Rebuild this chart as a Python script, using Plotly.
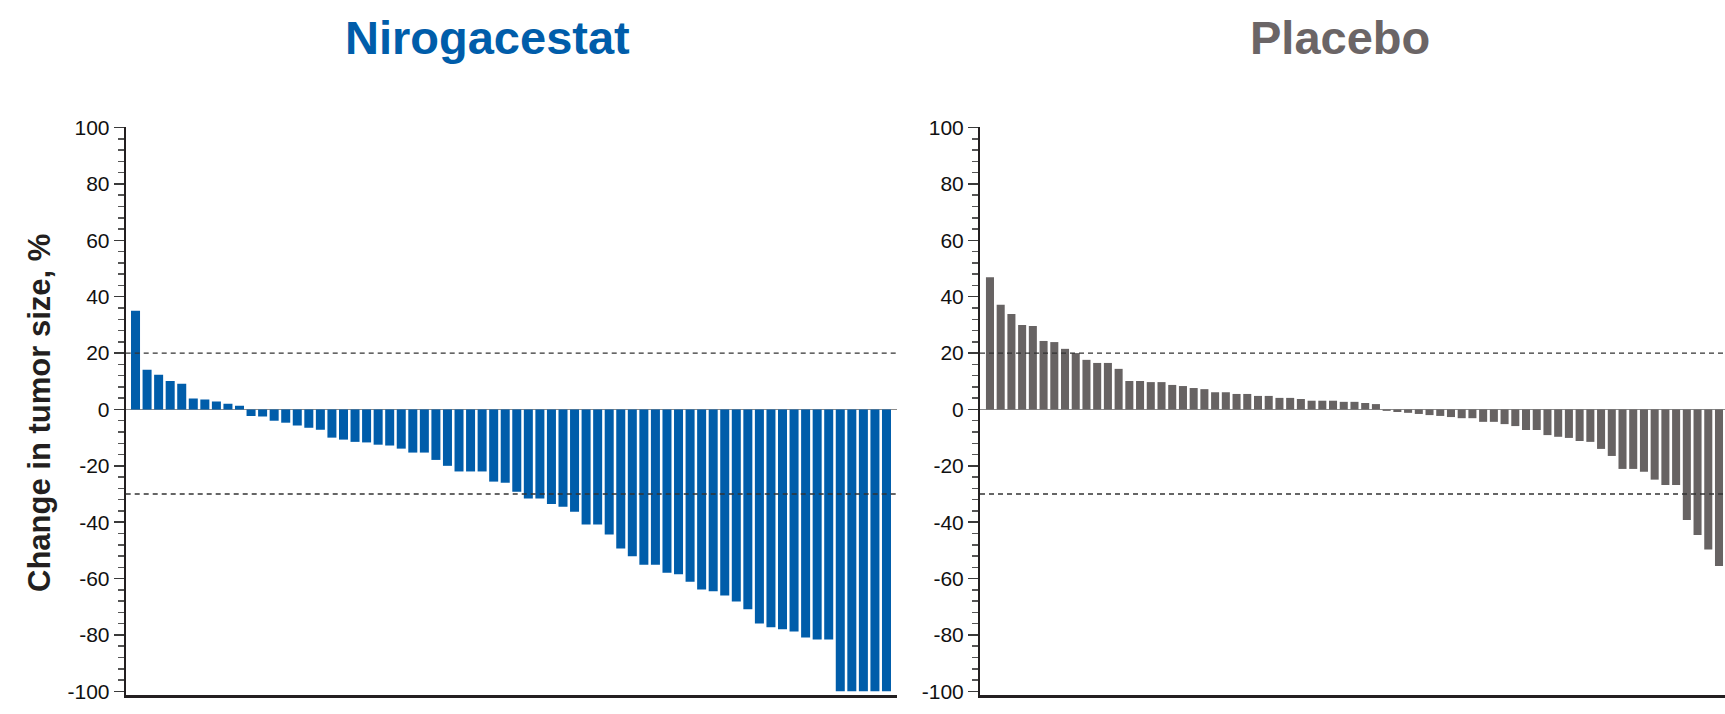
import plotly.graph_objects as go

# ---- data ----
niro_values = [35, 14.1, 12.3, 10.1, 9.1, 3.9, 3.5, 2.8, 2.0, 1.3,
               -2.3, -2.5, -4.0, -4.7, -5.7, -6.5, -7.2, -10.0, -10.7, -11.5,
               -11.7, -12.5, -12.8, -13.9, -15.3, -15.3, -17.9, -20.0, -22.0, -22.0,
               -22.0, -25.6, -26.0, -29.2, -31.6, -31.6, -33.5, -34.5, -36.3, -40.8,
               -40.8, -44.4, -49.3, -52.1, -55.1, -55.1, -57.9, -58.5, -61.1, -63.9,
               -64.5, -66.0, -68.1, -70.9, -75.9, -77.3, -78.0, -78.8, -80.9, -81.6,
               -81.6, -100, -100, -100, -100, -100]
placebo_values = [46.9, 37.1, 33.9, 30.0, 29.6, 24.3, 23.9, 21.5, 20.0, 17.6,
                  16.5, 16.5, 14.4, 10.1, 10.1, 9.7, 9.7, 8.7, 8.3, 7.6,
                  7.2, 6.1, 6.1, 5.5, 5.5, 4.8, 4.8, 4.1, 4.1, 3.7,
                  3.1, 3.1, 3.1, 2.7, 2.7, 2.3, 1.9,
                  -0.5, -0.9, -1.2, -1.6, -2.0, -2.3, -2.7, -3.1, -3.1, -4.4,
                  -4.4, -5.2, -5.9, -7.3, -7.3, -9.1, -9.7, -10.1, -11.2, -11.5,
                  -14.0, -16.5, -21.1, -21.1, -22.1, -24.9, -26.8, -26.8, -39.2, -44.5,
                  -49.7, -55.5]
panel_titles = ["Nirogacestat", "Placebo"]
y_title = "Change in tumor size, %"
y_ticks = [100, 80, 60, 40, 20, 0, -20, -40, -60, -80, -100]
threshold_lines = [20, -30]

BLUE = "#005DAA"
GRAY_BAR = "#676363"
GRAY_TITLE = "#6B6566"
AXIS = "#231F20"
FONT = "Liberation Sans, Arial, Helvetica, sans-serif"

W, H = 1725, 714
TOP, BOTTOM = 127, 695          # page pixel rows of plot area
T_M = TOP
B_M = H - BOTTOM
PLOT_H = H - T_M - B_M


def px(X):
    return X / W


def py(Y):
    return (BOTTOM - Y) / PLOT_H


fig = go.Figure()
fig.add_trace(go.Bar(x=list(range(len(niro_values))), y=niro_values,
                     marker=dict(color=BLUE, line=dict(width=0)),
                     width=0.78, xaxis="x", yaxis="y", showlegend=False))
fig.add_trace(go.Bar(x=list(range(len(placebo_values))), y=placebo_values,
                     marker=dict(color=GRAY_BAR, line=dict(width=0)),
                     width=0.75, xaxis="x2", yaxis="y2", showlegend=False))

yaxis_common = dict(
    range=[-101.3, 100.2], tickvals=y_ticks, ticktext=[str(v) for v in y_ticks],
    showgrid=False, zeroline=True, zerolinecolor="#8c8c8c", zerolinewidth=1.5,
    showline=True, linecolor=AXIS, linewidth=2,
    ticks="outside", ticklen=10, tickwidth=1.5, tickcolor="#3a3a3a",
    minor=dict(dtick=4, ticks="outside", ticklen=6, tickwidth=1.5, tickcolor="#555555"),
    tickfont=dict(family=FONT, size=21, color="#111111"),
    fixedrange=True,
)
xaxis_common = dict(showgrid=False, zeroline=False, showline=True, linecolor=AXIS,
                    linewidth=2.5, showticklabels=False, ticks="", fixedrange=True)

fig.update_layout(
    width=W, height=H,
    margin=dict(l=0, r=0, t=T_M, b=B_M),
    paper_bgcolor="white", plot_bgcolor="white",
    bargap=0.2,
    hovermode=False,
    xaxis=dict(domain=[px(125.7), px(897)], range=[-0.85, 65.91], anchor="y", **xaxis_common),
    yaxis=dict(domain=[0, 1], anchor="x", **yaxis_common),
    xaxis2=dict(domain=[px(980), 1.0], range=[-0.93, 68.56], anchor="y2", **xaxis_common),
    yaxis2=dict(domain=[0, 1], anchor="x2", **yaxis_common),
)

for xr, yr in [("x domain", "y"), ("x2 domain", "y2")]:
    for v in threshold_lines:
        fig.add_shape(type="line", xref=xr, yref=yr, x0=0, x1=1, y0=v, y1=v,
                      line=dict(color="#333333", width=1.3, dash="5px,4px"), layer="above")

fig.add_annotation(text=f"<b>{panel_titles[0]}</b>", xref="paper", yref="paper",
                   x=px(487), y=py(38), xanchor="center", yanchor="middle", showarrow=False,
                   font=dict(family=FONT, size=47, color=BLUE))
fig.add_annotation(text=f"<b>{panel_titles[1]}</b>", xref="paper", yref="paper",
                   x=px(1339.5), y=py(38), xanchor="center", yanchor="middle", showarrow=False,
                   font=dict(family=FONT, size=47, color=GRAY_TITLE))
fig.add_annotation(text=f"<b>{y_title}</b>", xref="paper", yref="paper",
                   x=px(39), y=py(413), xanchor="center", yanchor="middle", showarrow=False,
                   textangle=-90, font=dict(family=FONT, size=31, color="#231F20"))

fig.write_html(
    "out.html",
    config={"displayModeBar": False, "staticPlot": True},
    post_script="document.body.style.margin='0px';document.body.style.overflow='hidden';",
)
